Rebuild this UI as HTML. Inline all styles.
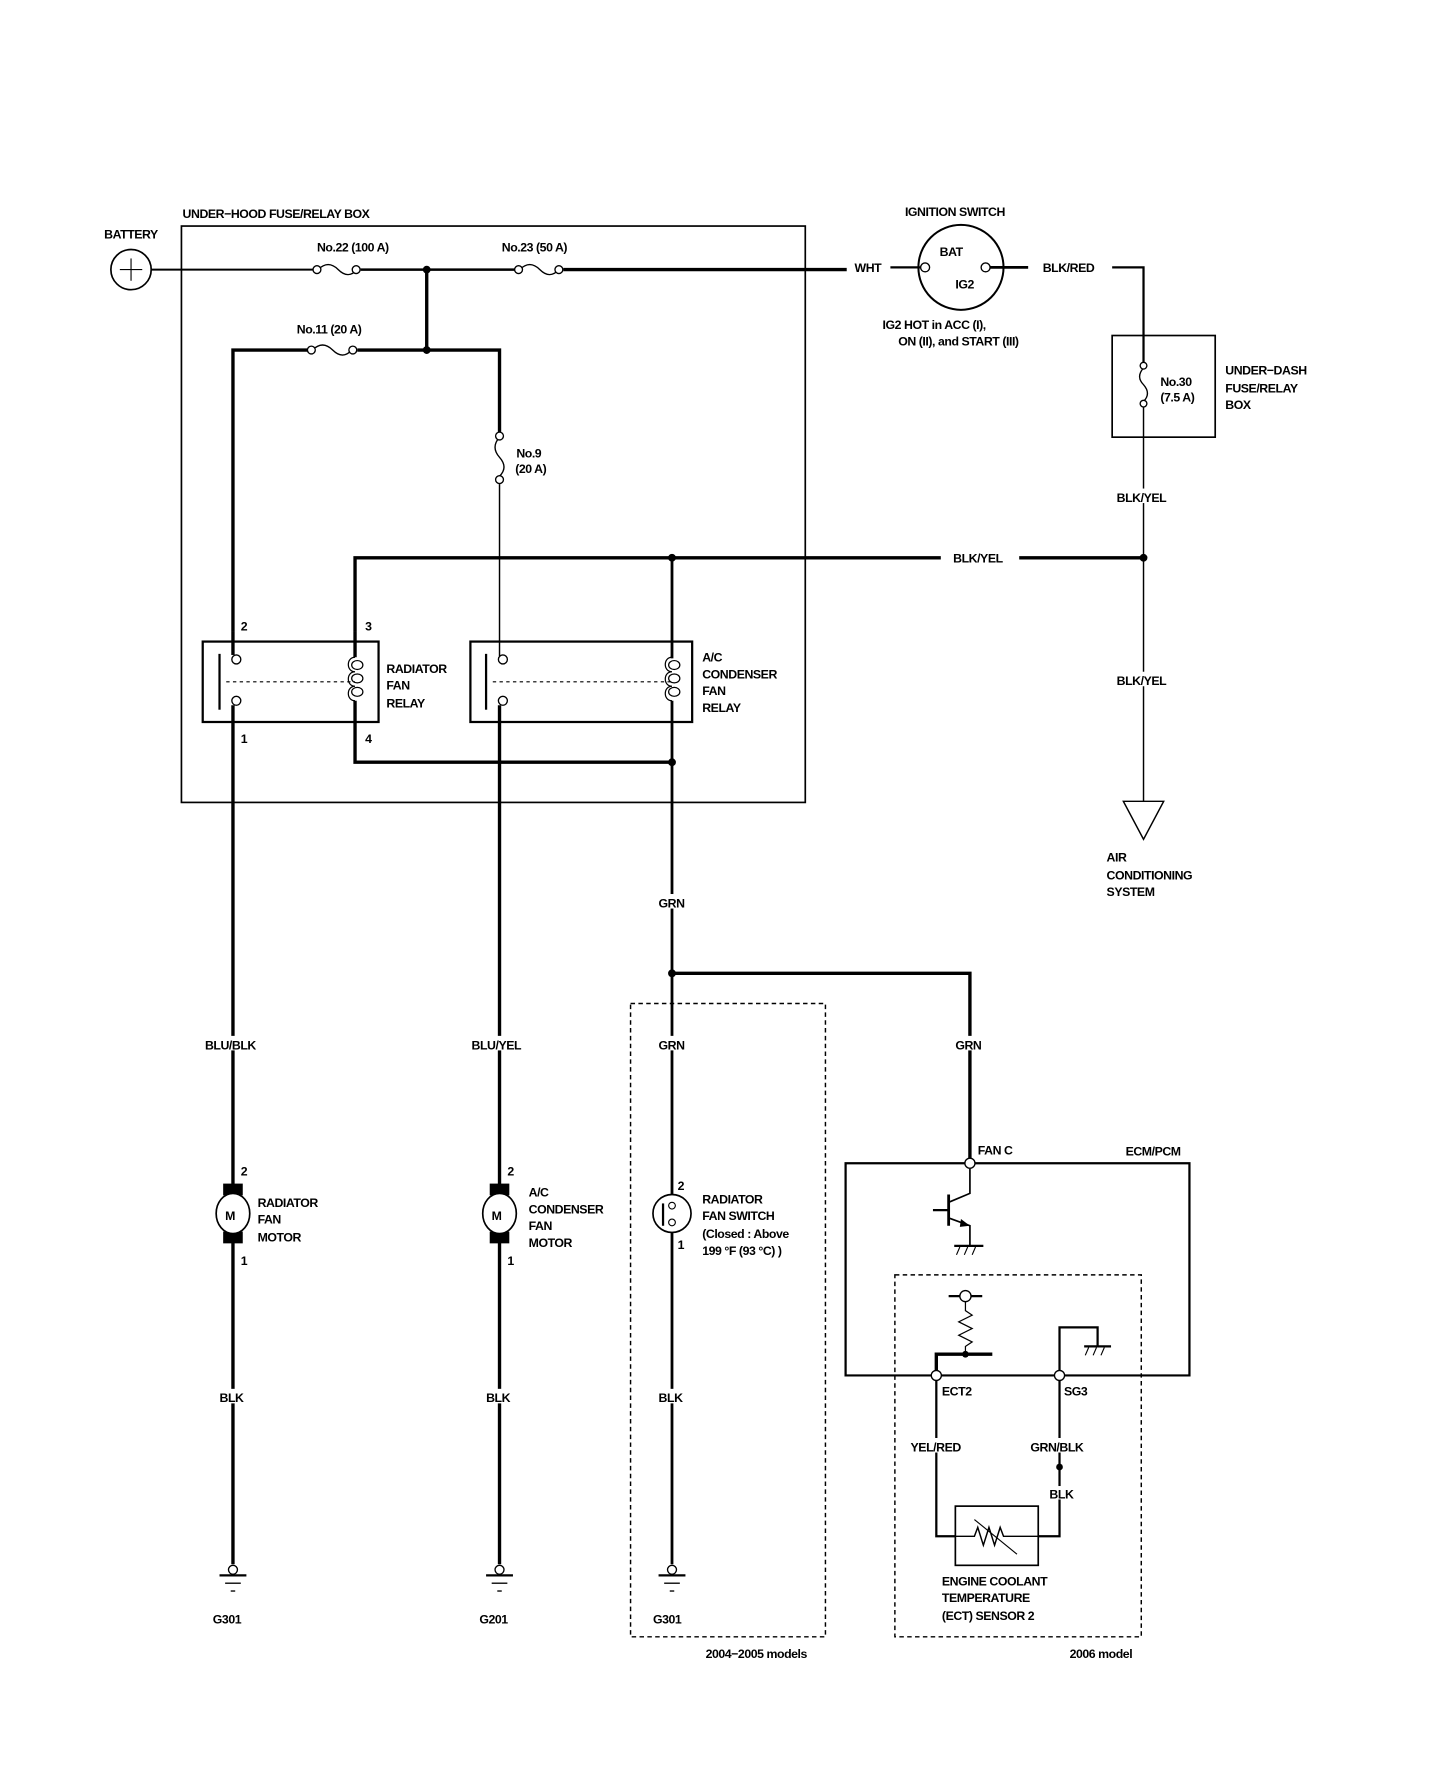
<!DOCTYPE html>
<html><head><meta charset="utf-8"><style>
html,body{margin:0;padding:0;background:#fff;}
svg{display:block}
text{font-family:"Liberation Sans",sans-serif;font-weight:bold;font-size:11px;fill:#000;letter-spacing:-0.4px}
</style></head><body>
<svg width="1456" height="1770" viewBox="0 0 1456 1770" xmlns="http://www.w3.org/2000/svg">
<g transform="translate(0,6) scale(1.12,1.117)" fill="none" stroke="#000">
<rect x="162" y="197" width="557" height="516" stroke-width="1.5"/>
<text x="163" y="190" stroke="none">UNDER−HOOD FUSE/RELAY BOX</text>
<circle cx="117" cy="236" r="18" stroke-width="1.5"/>
<line x1="107" y1="236" x2="127" y2="236" stroke-width="1"/><line x1="117" y1="226" x2="117" y2="246" stroke-width="1"/>
<text x="93" y="208" stroke="none">BATTERY</text>
<polyline points="135,236 280,236" stroke-width="1.8"/>
<path d="M284,236 q9,-9 18,0 q9,9 17,0" stroke-width="1.2"/>
<circle cx="283" cy="236" r="3.5" fill="#fff" stroke-width="1.2"/><circle cx="318" cy="236" r="3.5" fill="#fff" stroke-width="1.2"/>
<line x1="322" y1="236" x2="460" y2="236" stroke-width="2.2"/>
<path d="M464,236 q9,-9 18,0 q9,9 17,0" stroke-width="1.2"/>
<circle cx="463" cy="236" r="3.5" fill="#fff" stroke-width="1.2"/><circle cx="499" cy="236" r="3.5" fill="#fff" stroke-width="1.2"/>
<line x1="503" y1="236" x2="756" y2="236" stroke-width="3"/>
<text x="283" y="220" stroke="none">No.22 (100 A)</text>
<text x="448" y="220" stroke="none">No.23 (50 A)</text>
<circle cx="381" cy="236" r="3.5" fill="#000" stroke="none"/>
<line x1="381" y1="236" x2="381" y2="308" stroke-width="3"/>
<circle cx="381" cy="308" r="3.5" fill="#000" stroke="none"/>
<polyline points="208,560 208,308 276,308" stroke-width="3"/>
<path d="M279,308 q9,-9 18,0 q9,9 17,0" stroke-width="1.2"/>
<circle cx="278" cy="308" r="3.5" fill="#fff" stroke-width="1.2"/><circle cx="315" cy="308" r="3.5" fill="#fff" stroke-width="1.2"/>
<polyline points="319,308 446,308 446,382" stroke-width="3"/>
<text x="265" y="293" stroke="none">No.11 (20 A)</text>
<path d="M446,386 q-8,9 0,18 q8,9 0,17" stroke-width="1.2"/>
<circle cx="446" cy="385" r="3.5" fill="#fff" stroke-width="1.2"/><circle cx="446" cy="424" r="3.5" fill="#fff" stroke-width="1.2"/>
<line x1="446" y1="428" x2="446" y2="582" stroke-width="1.3"/>
<text x="461" y="404" stroke="none">No.9</text><text x="460" y="418" stroke="none">(20 A)</text>
<text x="808" y="188" stroke="none">IGNITION SWITCH</text>
<circle cx="858" cy="234" r="38" stroke-width="1.8"/>
<text x="839" y="224" stroke="none">BAT</text><text x="853" y="253" stroke="none">IG2</text>
<text x="763" y="238" stroke="none">WHT</text>
<line x1="795" y1="234" x2="823" y2="234" stroke-width="2"/>
<circle cx="826" cy="234" r="4" fill="#fff" stroke-width="1.2"/><circle cx="880" cy="234" r="4" fill="#fff" stroke-width="1.2"/>
<line x1="884" y1="234" x2="918" y2="234" stroke-width="2.5"/>
<text x="931" y="238" stroke="none">BLK/RED</text>
<polyline points="993,234 1021,234 1021,320" stroke-width="2"/>
<text x="788" y="289" stroke="none">IG2 HOT in ACC (I),</text>
<text x="802" y="304" stroke="none">ON (II), and START (III)</text>
<rect x="993" y="295" width="92" height="91" stroke-width="1.5"/>
<path d="M1021,324 q-7,8 0,15 q7,8 0,15" stroke-width="1.2"/>
<circle cx="1021" cy="322" r="3" fill="#fff" stroke-width="1.2"/><circle cx="1021" cy="356" r="3" fill="#fff" stroke-width="1.2"/>
<line x1="1021" y1="359" x2="1021" y2="712" stroke-width="1.3"/>
<text x="1036" y="340" stroke="none">No.30</text><text x="1036" y="354" stroke="none">(7.5 A)</text>
<text x="1094" y="330" stroke="none">UNDER−DASH</text><text x="1094" y="346" stroke="none">FUSE/RELAY</text><text x="1094" y="361" stroke="none">BOX</text>
<rect x="996" y="432" width="50" height="13" fill="#fff" stroke="none"/>
<text x="997" y="444" stroke="none">BLK/YEL</text>
<rect x="996" y="596" width="50" height="13" fill="#fff" stroke="none"/>
<text x="997" y="608" stroke="none">BLK/YEL</text>
<polygon points="1003,712 1039,712 1021,746" stroke-width="1.3"/>
<text x="988" y="766" stroke="none">AIR</text><text x="988" y="782" stroke="none">CONDITIONING</text><text x="988" y="797" stroke="none">SYSTEM</text>
<polyline points="317,560 317,494 840,494" stroke-width="3"/>
<text x="851" y="498" stroke="none">BLK/YEL</text>
<line x1="910" y1="494" x2="1021" y2="494" stroke-width="3"/>
<circle cx="1021" cy="494" r="3.5" fill="#000" stroke="none"/>
<circle cx="600" cy="494" r="3.5" fill="#000" stroke="none"/>
<line x1="600" y1="494" x2="600" y2="584" stroke-width="2.5"/>
<rect x="181" y="569" width="157" height="72" stroke-width="2"/>
<text x="215" y="559" stroke="none">2</text><text x="326" y="559" stroke="none">3</text>
<text x="215" y="660" stroke="none">1</text><text x="326" y="660" stroke="none">4</text>
<line x1="208" y1="560" x2="208" y2="581" stroke-width="3"/>
<circle cx="211" cy="585" r="4" fill="#fff" stroke-width="1.2"/><circle cx="211" cy="622" r="4" fill="#fff" stroke-width="1.2"/>
<line x1="196" y1="580" x2="196" y2="630" stroke-width="2"/>
<line x1="202" y1="605" x2="317" y2="605" stroke-width="1" stroke-dasharray="3,3"/>
<line x1="208" y1="626" x2="208" y2="1395" stroke-width="3"/>
<line x1="317" y1="560" x2="317" y2="583" stroke-width="3"/>
<path d="M317,583 c-8,0 -8,13 0,13 c-8,0 -8,13 0,13 c-8,0 -8,13 0,13 M314,590 a5,4 0 1 0 10,0 a5,4 0 1 0 -10,0 M314,602 a5,4 0 1 0 10,0 a5,4 0 1 0 -10,0 M314,614 a5,4 0 1 0 10,0 a5,4 0 1 0 -10,0" stroke-width="1.1"/>
<polyline points="317,622 317,677 600,677" stroke-width="3"/>
<text x="345" y="597" stroke="none">RADIATOR</text><text x="345" y="612" stroke="none">FAN</text><text x="345" y="628" stroke="none">RELAY</text>
<rect x="420" y="569" width="198" height="72" stroke-width="2"/>
<circle cx="449" cy="585" r="4" fill="#fff" stroke-width="1.2"/><circle cx="449" cy="622" r="4" fill="#fff" stroke-width="1.2"/>
<line x1="434" y1="580" x2="434" y2="630" stroke-width="2"/>
<line x1="440" y1="605" x2="600" y2="605" stroke-width="1" stroke-dasharray="3,3"/>
<line x1="446" y1="626" x2="446" y2="1395" stroke-width="3"/>
<path d="M600,583 c-8,0 -8,13 0,13 c-8,0 -8,13 0,13 c-8,0 -8,13 0,13 M597,590 a5,4 0 1 0 10,0 a5,4 0 1 0 -10,0 M597,602 a5,4 0 1 0 10,0 a5,4 0 1 0 -10,0 M597,614 a5,4 0 1 0 10,0 a5,4 0 1 0 -10,0" stroke-width="1.1"/>
<text x="627" y="587" stroke="none">A/C</text><text x="627" y="602" stroke="none">CONDENSER</text><text x="627" y="617" stroke="none">FAN</text><text x="627" y="632" stroke="none">RELAY</text>
<line x1="600" y1="622" x2="600" y2="1395" stroke-width="2.5"/>
<circle cx="600" cy="677" r="3.5" fill="#000" stroke="none"/>
<rect x="583" y="795" width="36" height="13" fill="#fff" stroke="none"/><text x="588" y="807" stroke="none">GRN</text>
<rect x="583" y="922" width="36" height="13" fill="#fff" stroke="none"/><text x="588" y="934" stroke="none">GRN</text>
<rect x="180" y="922" width="56" height="13" fill="#fff" stroke="none"/><text x="183" y="934" stroke="none">BLU/BLK</text>
<rect x="418" y="922" width="56" height="13" fill="#fff" stroke="none"/><text x="421" y="934" stroke="none">BLU/YEL</text>
<rect x="193" y="1238" width="30" height="13" fill="#fff" stroke="none"/><text x="196" y="1250" stroke="none">BLK</text>
<rect x="431" y="1238" width="30" height="13" fill="#fff" stroke="none"/><text x="434" y="1250" stroke="none">BLK</text>
<rect x="585" y="1238" width="30" height="13" fill="#fff" stroke="none"/><text x="588" y="1250" stroke="none">BLK</text>
<circle cx="600" cy="866" r="3.5" fill="#000" stroke="none"/>
<polyline points="600,866 866,866 866,1032" stroke-width="3"/>
<rect x="850" y="922" width="34" height="13" fill="#fff" stroke="none"/><text x="853" y="934" stroke="none">GRN</text>
<g stroke-width="1.5">
<rect x="200" y="1055" width="16" height="9" fill="#000"/><rect x="200" y="1098" width="16" height="9" fill="#000"/>
<ellipse cx="208" cy="1081" rx="15" ry="18" fill="#fff"/>
<rect x="438" y="1055" width="16" height="9" fill="#000"/><rect x="438" y="1098" width="16" height="9" fill="#000"/>
<ellipse cx="446" cy="1081" rx="15" ry="18" fill="#fff"/>
</g>
<text x="201" y="1087" stroke="none" font-size="13">M</text><text x="439" y="1087" stroke="none" font-size="13">M</text>
<text x="215" y="1047" stroke="none">2</text><text x="215" y="1127" stroke="none">1</text>
<text x="453" y="1047" stroke="none">2</text><text x="453" y="1127" stroke="none">1</text>
<text x="230" y="1075" stroke="none">RADIATOR</text><text x="230" y="1090" stroke="none">FAN</text><text x="230" y="1106" stroke="none">MOTOR</text>
<text x="472" y="1066" stroke="none">A/C</text><text x="472" y="1081" stroke="none">CONDENSER</text><text x="472" y="1096" stroke="none">FAN</text><text x="472" y="1111" stroke="none">MOTOR</text>
<circle cx="600" cy="1081" r="17" fill="#fff" stroke-width="1.5"/>
<line x1="592" y1="1072" x2="592" y2="1092" stroke-width="2"/>
<circle cx="600" cy="1074" r="3" fill="#fff" stroke-width="1"/><circle cx="600" cy="1089" r="3" fill="#fff" stroke-width="1"/>
<text x="605" y="1060" stroke="none">2</text><text x="605" y="1113" stroke="none">1</text>
<text x="627" y="1072" stroke="none">RADIATOR</text><text x="627" y="1087" stroke="none">FAN SWITCH</text>
<text x="627" y="1103" stroke="none" font-size="10">(Closed : Above</text><text x="627" y="1118" stroke="none" font-size="10">199 °F (93 °C) )</text>
<g stroke-width="1.2">
<circle cx="208" cy="1400" r="4" fill="#fff"/><line x1="196" y1="1405" x2="220" y2="1405" stroke-width="2"/><line x1="201" y1="1412" x2="215" y2="1412"/><line x1="206" y1="1419" x2="210" y2="1419"/>
<circle cx="446" cy="1400" r="4" fill="#fff"/><line x1="434" y1="1405" x2="458" y2="1405" stroke-width="2"/><line x1="439" y1="1412" x2="453" y2="1412"/><line x1="444" y1="1419" x2="448" y2="1419"/>
<circle cx="600" cy="1400" r="4" fill="#fff"/><line x1="588" y1="1405" x2="612" y2="1405" stroke-width="2"/><line x1="593" y1="1412" x2="607" y2="1412"/><line x1="598" y1="1419" x2="602" y2="1419"/>
</g>
<text x="190" y="1448" stroke="none">G301</text><text x="428" y="1448" stroke="none">G201</text><text x="583" y="1448" stroke="none">G301</text>
<rect x="563" y="893" width="174" height="567" stroke-width="1.3" stroke-dasharray="4,3"/>
<text x="630" y="1479" stroke="none">2004−2005 models</text>
<polyline points="866,1036 755,1036 755,1226 1062,1226 1062,1036 866,1036" stroke-width="2"/>
<circle cx="866" cy="1036" r="4.5" fill="#fff" stroke-width="1.2"/>
<text x="873" y="1028" stroke="none">FAN C</text><text x="1005" y="1029" stroke="none">ECM/PCM</text>
<polyline points="866,1041 866,1063 847,1071" stroke-width="1.5"/>
<line x1="847" y1="1064" x2="847" y2="1092" stroke-width="2.5"/>
<line x1="833" y1="1078" x2="847" y2="1078" stroke-width="2"/>
<polyline points="847,1085 866,1092 866,1110" stroke-width="1.5"/>
<polygon points="866,1092 858,1086 857,1093" fill="#000" stroke="none"/>
<line x1="852" y1="1110" x2="878" y2="1110" stroke-width="2"/>
<path d="M857,1111 l-3,7 M864,1111 l-3,7 M871,1111 l-3,7" stroke-width="1"/>
<rect x="799" y="1136" width="220" height="324" stroke-width="1.3" stroke-dasharray="4,3"/>
<text x="955" y="1479" stroke="none">2006 model</text>
<line x1="847" y1="1155" x2="877" y2="1155" stroke-width="2"/>
<circle cx="862" cy="1155" r="5" fill="#fff" stroke-width="1.2"/>
<polyline points="862,1160 862,1168 868,1172 856,1178 868,1184 856,1190 868,1196 862,1200 862,1207" stroke-width="1.1"/>
<polyline points="836,1222 836,1207 886,1207" stroke-width="3"/>
<circle cx="862" cy="1207" r="3" fill="#000" stroke="none"/>
<circle cx="836" cy="1226" r="4.5" fill="#fff" stroke-width="1.2"/>
<circle cx="946" cy="1226" r="4.5" fill="#fff" stroke-width="1.2"/>
<polyline points="946,1222 946,1183 980,1183 980,1200" stroke-width="2"/>
<line x1="968" y1="1200" x2="992" y2="1200" stroke-width="2"/>
<path d="M972,1201 l-3,7 M979,1201 l-3,7 M986,1201 l-3,7" stroke-width="1"/>
<text x="841" y="1244" stroke="none">ECT2</text><text x="950" y="1244" stroke="none">SG3</text>
<polyline points="836,1231 836,1370 853,1370" stroke-width="2"/>
<polyline points="946,1231 946,1370 927,1370" stroke-width="2"/>
<rect x="813" y="1282" width="48" height="13" fill="#fff" stroke="none"/><text x="813" y="1294" stroke="none">YEL/RED</text>
<rect x="919" y="1282" width="52" height="13" fill="#fff" stroke="none"/><text x="920" y="1294" stroke="none">GRN/BLK</text>
<circle cx="946" cy="1308" r="3" fill="#000" stroke="none"/>
<rect x="935" y="1325" width="26" height="12" fill="#fff" stroke="none"/><text x="937" y="1336" stroke="none">BLK</text>
<rect x="853" y="1343" width="74" height="53" stroke-width="1.5"/>
<polyline points="853,1370 870,1370 873,1362 878,1378 883,1362 888,1378 893,1362 896,1370 927,1370" stroke-width="1.3"/>
<line x1="870" y1="1355" x2="908" y2="1386" stroke-width="1"/>
<text x="841" y="1414" stroke="none">ENGINE COOLANT</text><text x="841" y="1429" stroke="none">TEMPERATURE</text><text x="841" y="1445" stroke="none">(ECT) SENSOR 2</text>
</g>
</svg>
</body></html>
